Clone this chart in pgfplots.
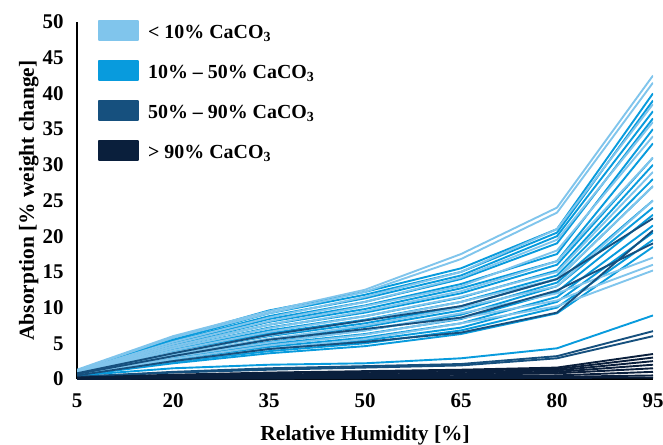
\documentclass[border=0pt]{standalone}
\usepackage{fontspec}
\setmainfont{Liberation Serif}
\usepackage{pgfplots}
\usepackage{pgfplotstable}
\pgfplotsset{compat=1.18}
\definecolor{cLight}{RGB}{128,197,236}
\definecolor{cMid}{RGB}{8,155,221}
\definecolor{cDark}{RGB}{22,80,126}
\definecolor{cNavy}{RGB}{10,31,60}

\pgfplotstableread{
rh l1 l2 l3 l4 l5 l6 l7 l8 l9 l10 l11 l12
5 1.3 1.2 1.1 1.0 1.0 0.9 0.9 0.8 0.8 0.7 0.7 0.6
20 6.0 5.8 5.2 4.9 4.6 4.3 4.0 3.7 3.4 3.1 2.8 2.5
35 9.5 9.2 8.6 8.1 7.6 7.1 6.6 6.1 5.6 5.1 4.7 4.2
50 12.5 12.2 11.5 10.8 10.2 9.5 8.8 8.2 7.5 6.8 6.2 5.6
65 17.5 16.8 15.0 14.2 13.0 12.3 11.5 10.8 10.0 9.2 8.5 7.8
80 24.0 23.3 21.0 19.5 18.0 16.5 15.0 14.0 13.0 12.0 11.0 10.2
95 42.5 41.5 38.5 36.0 34.0 31.0 29.0 27.0 25.0 17.0 16.0 15.2
}\lighttab

\pgfplotstableread{
rh m1 m2 m3 m4 m5 m6 m7 m8 m9 m10 m11 m12 m13 m14 m15 m16 m17 m18
5 1.2 1.2 1.1 1.1 1.0 1.0 0.9 0.9 0.9 0.8 0.8 0.7 0.7 0.7 0.6 0.6 0.5 0.5
20 5.8 5.5 5.3 5.0 4.8 4.6 4.3 4.1 3.9 3.7 3.4 3.2 3.0 2.8 2.6 2.4 2.2 1.5
35 9.6 9.2 8.8 8.4 8.0 7.6 7.2 6.8 6.4 6.0 5.6 5.2 4.9 4.5 4.2 3.9 3.6 2.0
50 12.2 11.8 11.3 10.8 10.3 9.8 9.3 8.8 8.3 7.8 7.3 6.8 6.3 5.8 5.4 5.0 4.6 2.2
65 15.5 15.0 14.5 14.0 13.3 12.7 12.0 11.4 10.8 10.2 9.6 9.0 8.4 7.8 7.2 6.8 6.3 2.9
80 21.0 20.5 20.0 19.0 17.5 16.5 16.0 15.2 14.5 14.0 13.5 13.0 12.2 11.5 10.8 10.0 9.2 4.3
95 40.0 39.0 37.5 36.5 35.0 33.0 31.0 30.0 28.0 27.0 25.0 24.0 23.0 21.5 20.5 19.5 18.5 8.9
}\midtab

\pgfplotstableread{
rh d1 d2 d3 d4 d5
5 0.8 0.7 0.5 0.3 0.3
20 3.6 3.2 2.5 1.0 0.9
35 6.2 5.5 4.2 1.5 1.3
50 8.2 7.0 5.2 1.8 1.6
65 10.2 8.6 6.5 2.1 1.9
80 14.0 12.4 9.3 3.2 2.9
95 22.5 19.0 20.8 6.7 6.0
}\darktab

\pgfplotstableread{
rh n1 n2 n3 n4 n5 n6 n7 n8
5 0.2 0.15 0.1 0.1 0.05 0.05 0 0
20 0.6 0.5 0.4 0.3 0.2 0.15 0.1 0.05
35 0.9 0.8 0.6 0.5 0.4 0.25 0.15 0.05
50 1.1 1.0 0.8 0.6 0.5 0.3 0.2 0.1
65 1.3 1.2 1.0 0.8 0.6 0.4 0.25 0.1
80 1.6 1.4 1.2 1.0 0.8 0.5 0.3 0.15
95 3.5 3.0 2.5 2.0 1.5 1.0 0.5 0.2
}\navytab

\begin{document}
\begin{tikzpicture}
\path[use as bounding box] (-77bp,-66bp) rectangle (586bp,379bp);
\begin{axis}[
  at={(0,0)}, anchor=south west,
  scale only axis, width=576bp, height=357bp,
  xmin=5, xmax=95, ymin=0, ymax=50,
  xtick={5,20,35,50,65,80,95}, ytick={0,5,...,50},
  axis x line=bottom, axis y line=left,
  axis line style={-, line width=1.8bp, black},
  major tick length=0pt,
  /pgf/number format/assume math mode=true,
  ticklabel style={font=\fontsize{21}{21}\selectfont\bfseries},
  xticklabel style={yshift=-11bp},
  yticklabel style={xshift=-10bp},
  label style={font=\fontsize{21.5}{21.5}\selectfont\bfseries},
  xlabel={Relative Humidity [\%]},
  ylabel={Absorption [\% weight change]},
  xlabel style={at={(axis description cs:0.5,0)}, anchor=center, yshift=-56bp},
  ylabel style={at={(axis description cs:-0.0835,0.5)}, anchor=center},
  legend image code/.code={\fill[#1] (0bp,-7.5bp) rectangle (39bp,11.5bp);},
  legend style={at={(rel axis cs:0,1)}, anchor=north west, xshift=21bp, yshift=2bp,
    draw=none, fill=none, inner sep=0pt, row sep=19bp, column sep=9bp,
    nodes={inner sep=0pt},
    font=\fontsize{20}{20}\selectfont\bfseries},
  legend cell align=left,
  every axis plot/.append style={line width=1.9bp, line join=round},
]
\addlegendimage{color=cLight, fill=cLight}
\addlegendentry{< 10\% CaCO\textsubscript{3}}
\addlegendimage{color=cMid, fill=cMid}
\addlegendentry{10\% -- 50\% CaCO\textsubscript{3}}
\addlegendimage{color=cDark, fill=cDark}
\addlegendentry{50\% -- 90\% CaCO\textsubscript{3}}
\addlegendimage{color=cNavy, fill=cNavy}
\addlegendentry{> 90\% CaCO\textsubscript{3}}

\pgfplotsinvokeforeach{1,...,18}{
  \addplot[cMid, forget plot] table[x=rh, y=m#1]{\midtab};
}
\pgfplotsinvokeforeach{1,...,12}{
  \addplot[cLight, forget plot] table[x=rh, y=l#1]{\lighttab};
}
\pgfplotsinvokeforeach{1,...,5}{
  \addplot[cDark, forget plot] table[x=rh, y=d#1]{\darktab};
}
\pgfplotsinvokeforeach{1,...,8}{
  \addplot[cNavy, forget plot] table[x=rh, y=n#1]{\navytab};
}
\end{axis}
\end{tikzpicture}
\end{document}
